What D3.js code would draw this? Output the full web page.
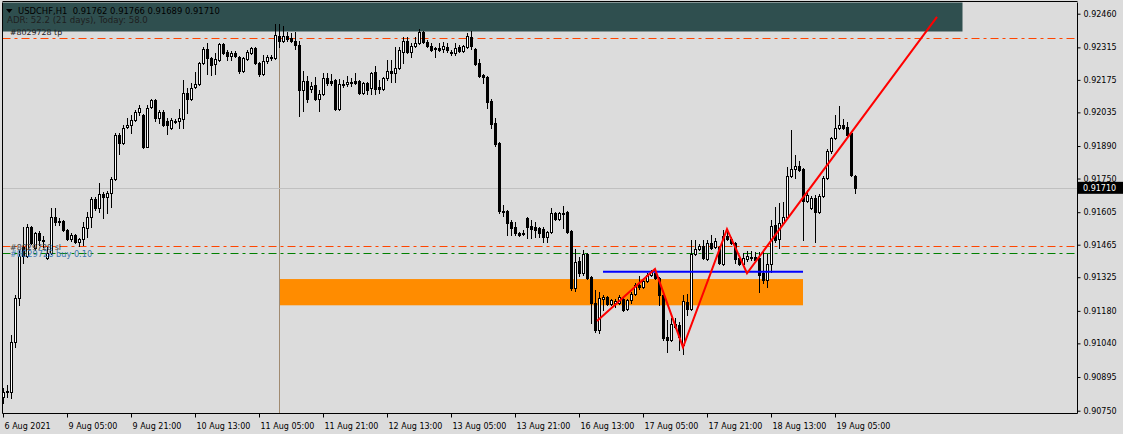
<!DOCTYPE html>
<html><head><meta charset="utf-8">
<script src="https://cdn.jsdelivr.net/npm/d3@7"></script>
<style>html,body{margin:0;padding:0;background:#dcdcdc;overflow:hidden}svg{display:block}</style>
</head><body><svg id="c" width="1123" height="434"></svg>
<script>
// ---------- data ----------
const symbol = "USDCHF,H1";
const headerOHLC = ["0.91762", "0.91766", "0.91689", "0.91710"];
const adrText = "ADR: 52.2 (21 days), Today: 58.0";

const opens = [
0.90808,0.90829,0.90829,0.91045,0.91235,0.91454,0.91416,0.91541,0.91450,0.91515,
0.91485,0.91407,0.91429,0.91584,0.91562,0.91566,0.91528,0.91489,0.91506,0.91476,
0.91489,0.91536,0.91584,0.91661,0.91623,0.91683,0.91670,0.91687,0.91748,0.91937,
0.91903,0.91972,0.91980,0.92002,0.92036,0.92023,0.91885,0.92058,0.92088,0.92010,
0.92036,0.91997,0.91967,0.91997,0.91997,0.92006,0.92118,0.92092,0.92144,0.92157,
0.92247,0.92308,0.92269,0.92243,0.92260,0.92329,0.92295,0.92278,0.92291,0.92273,
0.92213,0.92265,0.92291,0.92312,0.92247,0.92200,0.92256,0.92269,0.92269,0.92364,
0.92342,0.92364,0.92355,0.92342,0.92325,0.92131,0.92170,0.92135,0.92153,0.92092,
0.92114,0.92183,0.92170,0.92174,0.92049,0.92157,0.92157,0.92166,0.92170,0.92170,
0.92118,0.92161,0.92140,0.92209,0.92144,0.92135,0.92183,0.92213,0.92204,0.92226,
0.92295,0.92342,0.92295,0.92321,0.92334,0.92381,0.92338,0.92321,0.92312,0.92312,
0.92308,0.92316,0.92295,0.92291,0.92316,0.92299,0.92316,0.92360,0.92308,0.92247,
0.92196,0.92187,0.92084,0.91989,0.91903,0.91610,0.91610,0.91562,0.91541,0.91515,
0.91515,0.91579,0.91545,0.91541,0.91536,0.91532,0.91498,0.91519,0.91601,0.91575,
0.91597,0.91605,0.91523,0.91278,0.91394,0.91342,0.91424,0.91325,0.91213,0.91097,
0.91230,0.91239,0.91209,0.91213,0.91213,0.91230,0.91187,0.91226,0.91252,0.91291,
0.91282,0.91308,0.91334,0.91342,0.91321,0.91248,0.91067,0.91054,0.91123,0.91118,
0.91032,0.91217,0.91187,0.91424,0.91446,0.91459,0.91403,0.91472,0.91454,0.91454,
0.91381,0.91502,0.91489,0.91472,0.91407,0.91381,0.91403,0.91411,0.91411,0.91407,
0.91342,0.91312,0.91381,0.91549,0.91489,0.91558,0.91584,0.91760,0.91791,0.91804,
0.91791,0.91653,0.91623,0.91666,0.91605,0.91674,0.91752,0.91868,0.91924,0.91967,
0.91980,0.91972,0.91946,0.91762];

const highs = [
0.90847,0.90860,0.91075,0.91248,0.91441,0.91541,0.91554,0.91545,0.91519,0.91523,
0.91502,0.91454,0.91623,0.91623,0.91579,0.91571,0.91532,0.91515,0.91510,0.91493,
0.91562,0.91605,0.91670,0.91670,0.91730,0.91691,0.91696,0.91756,0.91946,0.91946,
0.91980,0.92010,0.92023,0.92045,0.92066,0.92028,0.92066,0.92092,0.92092,0.92045,
0.92045,0.92010,0.92010,0.92006,0.92049,0.92174,0.92140,0.92161,0.92209,0.92252,
0.92316,0.92334,0.92273,0.92291,0.92334,0.92334,0.92303,0.92299,0.92299,0.92278,
0.92273,0.92303,0.92316,0.92316,0.92252,0.92282,0.92282,0.92282,0.92416,0.92416,
0.92407,0.92381,0.92377,0.92381,0.92342,0.92213,0.92191,0.92166,0.92187,0.92131,
0.92204,0.92204,0.92200,0.92179,0.92179,0.92174,0.92191,0.92183,0.92204,0.92174,
0.92166,0.92166,0.92209,0.92235,0.92174,0.92187,0.92260,0.92260,0.92316,0.92316,
0.92360,0.92360,0.92334,0.92360,0.92394,0.92385,0.92347,0.92334,0.92316,0.92334,
0.92338,0.92334,0.92303,0.92334,0.92325,0.92325,0.92377,0.92385,0.92312,0.92265,
0.92200,0.92191,0.92092,0.92010,0.91907,0.91635,0.91614,0.91571,0.91562,0.91519,
0.91528,0.91584,0.91571,0.91562,0.91541,0.91541,0.91523,0.91623,0.91605,0.91605,
0.91631,0.91610,0.91528,0.91446,0.91411,0.91441,0.91429,0.91329,0.91269,0.91260,
0.91248,0.91243,0.91230,0.91230,0.91248,0.91235,0.91230,0.91260,0.91299,0.91329,
0.91317,0.91342,0.91355,0.91360,0.91325,0.91252,0.91140,0.91148,0.91148,0.91131,
0.91248,0.91252,0.91485,0.91485,0.91467,0.91485,0.91485,0.91506,0.91493,0.91459,
0.91528,0.91528,0.91498,0.91476,0.91411,0.91429,0.91437,0.91437,0.91433,0.91433,
0.91433,0.91424,0.91571,0.91627,0.91644,0.91648,0.91799,0.91959,0.91851,0.91825,
0.91795,0.91700,0.91674,0.91679,0.91683,0.91760,0.91877,0.91929,0.92023,0.92062,
0.92006,0.91993,0.91950,0.91766];

const lows = [
0.90782,0.90808,0.90804,0.91023,0.91204,0.91385,0.91411,0.91467,0.91441,0.91463,
0.91454,0.91403,0.91424,0.91549,0.91549,0.91523,0.91485,0.91480,0.91472,0.91459,
0.91463,0.91498,0.91541,0.91614,0.91605,0.91579,0.91601,0.91627,0.91743,0.91855,
0.91898,0.91967,0.91946,0.91997,0.92023,0.91881,0.91885,0.92054,0.91997,0.91989,
0.91976,0.91941,0.91963,0.91989,0.91967,0.91967,0.92032,0.92088,0.92140,0.92153,
0.92243,0.92200,0.92196,0.92200,0.92256,0.92286,0.92260,0.92260,0.92273,0.92204,
0.92209,0.92260,0.92286,0.92243,0.92191,0.92196,0.92247,0.92260,0.92265,0.92316,
0.92338,0.92342,0.92338,0.92308,0.92019,0.92041,0.92079,0.92122,0.92088,0.92041,
0.92110,0.92153,0.92153,0.92045,0.92045,0.92144,0.92148,0.92148,0.92157,0.92114,
0.92114,0.92114,0.92114,0.92114,0.92118,0.92131,0.92174,0.92166,0.92166,0.92222,
0.92247,0.92291,0.92273,0.92316,0.92329,0.92334,0.92316,0.92299,0.92273,0.92299,
0.92295,0.92295,0.92282,0.92282,0.92295,0.92295,0.92312,0.92308,0.92239,0.92187,
0.92161,0.92054,0.91967,0.91890,0.91601,0.91588,0.91506,0.91506,0.91506,0.91502,
0.91506,0.91493,0.91493,0.91498,0.91498,0.91476,0.91476,0.91515,0.91571,0.91571,
0.91536,0.91515,0.91269,0.91265,0.91329,0.91334,0.91317,0.91127,0.91088,0.91084,
0.91183,0.91204,0.91204,0.91196,0.91209,0.91179,0.91183,0.91213,0.91248,0.91273,
0.91278,0.91304,0.91329,0.91317,0.91204,0.91054,0.91002,0.91049,0.91105,0.91010,
0.90993,0.91161,0.91183,0.91420,0.91441,0.91403,0.91398,0.91446,0.91450,0.91381,
0.91377,0.91485,0.91467,0.91385,0.91377,0.91377,0.91394,0.91398,0.91390,0.91260,
0.91299,0.91282,0.91347,0.91476,0.91450,0.91554,0.91579,0.91756,0.91752,0.91782,
0.91485,0.91648,0.91618,0.91476,0.91601,0.91670,0.91748,0.91860,0.91920,0.91963,
0.91963,0.91933,0.91760,0.91689];

const closes = [
0.90829,0.90834,0.91045,0.91235,0.91416,0.91416,0.91541,0.91472,0.91515,0.91485,
0.91480,0.91429,0.91584,0.91562,0.91566,0.91528,0.91489,0.91506,0.91476,0.91489,
0.91541,0.91584,0.91661,0.91623,0.91683,0.91670,0.91687,0.91748,0.91937,0.91903,
0.91967,0.91980,0.92002,0.92036,0.92054,0.91885,0.92054,0.92088,0.92010,0.92036,
0.91980,0.91980,0.92002,0.91995,0.92010,0.92118,0.92092,0.92140,0.92157,0.92247,
0.92308,0.92269,0.92239,0.92265,0.92329,0.92291,0.92278,0.92291,0.92278,0.92213,
0.92269,0.92295,0.92312,0.92247,0.92200,0.92256,0.92273,0.92273,0.92368,0.92342,
0.92364,0.92351,0.92342,0.92325,0.92131,0.92170,0.92092,0.92148,0.92092,0.92114,
0.92183,0.92161,0.92161,0.92049,0.92157,0.92155,0.92166,0.92161,0.92161,0.92118,
0.92161,0.92131,0.92204,0.92135,0.92135,0.92183,0.92213,0.92204,0.92226,0.92303,
0.92342,0.92295,0.92321,0.92334,0.92381,0.92338,0.92321,0.92303,0.92310,0.92303,
0.92321,0.92303,0.92291,0.92312,0.92299,0.92321,0.92364,0.92321,0.92243,0.92191,
0.92187,0.92079,0.91985,0.91898,0.91610,0.91605,0.91558,0.91536,0.91515,0.91506,
0.91513,0.91541,0.91532,0.91528,0.91515,0.91498,0.91519,0.91601,0.91575,0.91601,
0.91601,0.91519,0.91278,0.91390,0.91342,0.91424,0.91321,0.91213,0.91097,0.91235,
0.91239,0.91209,0.91226,0.91222,0.91239,0.91183,0.91226,0.91252,0.91291,0.91282,
0.91308,0.91334,0.91347,0.91321,0.91248,0.91062,0.91054,0.91123,0.91110,0.91067,
0.91222,0.91187,0.91424,0.91446,0.91459,0.91407,0.91472,0.91450,0.91480,0.91385,
0.91502,0.91489,0.91472,0.91403,0.91381,0.91407,0.91416,0.91407,0.91398,0.91334,
0.91312,0.91381,0.91545,0.91485,0.91558,0.91584,0.91760,0.91791,0.91804,0.91786,
0.91653,0.91679,0.91666,0.91605,0.91674,0.91752,0.91868,0.91924,0.91967,0.91980,
0.91967,0.91937,0.91765,0.91710];

const timeTickIndex = [0, 16, 32, 48, 64, 80, 96, 112, 128, 144, 160, 176, 192, 208];
const timeTickLabels = ["6 Aug 2021", "9 Aug 05:00", "9 Aug 21:00", "10 Aug 13:00", "11 Aug 05:00",
  "11 Aug 21:00", "12 Aug 13:00", "13 Aug 05:00", "13 Aug 21:00", "16 Aug 13:00",
  "17 Aug 05:00", "17 Aug 21:00", "18 Aug 13:00", "19 Aug 05:00"];
const priceTicks = [0.92460, 0.92315, 0.92175, 0.92035, 0.91890, 0.91750, 0.91605,
  0.91465, 0.91325, 0.91180, 0.91040, 0.90895, 0.90750];

const currentPrice = 0.91710;
const orderLevels = [0.92354, 0.91461, 0.91428];          // tp, sl, buy
const orderLabels = ["#8029728 tp", "#8029728 sl", "#8029728 buy 0.10"];
const orderColors = ["#ff4500", "#ff4500", "#008000"];
const orderTextColors = ["#202020", "#404040", "#3c78b0"];

const zoneIndex = [69, 200];                 // orange rectangle, bar span
const zonePrice = [0.91317, 0.91204];        // top, bottom
const levelIndex = [150, 200];               // blue horizontal segment
const levelPrice = [0.91348, 0.91348];
const zigzagIndex = [148.5, 163, 170, 181, 186, 233.5];
const zigzagPrice = [0.91136, 0.91360, 0.91023, 0.91532, 0.91342, 0.92446];
const vlineIndex = 69;

// ---------- scales ----------
const svg = d3.select("#c");
const W = 1123, H = 434;
const plotL = 2.5, plotR = 1077.5, plotT = 2.5, plotB = 413.5;
const x = d3.scaleLinear().domain([0, 268.5]).range([3, 1077]);
const y = d3.scaleLinear().domain([0.90750, 0.92460]).range([410.7, 13.7]);
const FONT = "'DejaVu Sans', Verdana, sans-serif";

// scale a text's font so that it spans the width seen in the reference
function fitText(sel, target) {
  const fs = +sel.attr("font-size");
  const w = sel.node().getComputedTextLength();
  if (w > 0) sel.attr("font-size", (fs * target / w).toFixed(2));
  return sel;
}

svg.append("rect").attr("width", W).attr("height", H).attr("fill", "#dcdcdc");

// header panel
svg.append("rect").attr("x", 2.5).attr("y", 2.5).attr("width", 960).attr("height", 29)
  .attr("fill", "#2f4f4f");
svg.append("path").attr("d", "M6,9 L12.5,9 L9.25,13 Z").attr("fill", "#000");
const ht = svg.append("text").attr("x", 18).attr("y", 13.5).attr("font-family", FONT).attr("font-size", 9.5)
  .attr("fill", "#000").attr("xml:space", "preserve").style("white-space", "pre")
  .text(symbol + "  " + headerOHLC.join(" "));
fitText(ht, 202);
const at = svg.append("text").attr("x", 7).attr("y", 23.3).attr("font-family", FONT).attr("font-size", 8)
  .attr("fill", "#1e1e1e").text(adrText);
fitText(at, 141);

const plot = svg.append("g");

// orange zone
plot.append("rect")
  .attr("x", x(zoneIndex[0])).attr("y", y(zonePrice[0]))
  .attr("width", x(zoneIndex[1]) - x(zoneIndex[0]))
  .attr("height", y(zonePrice[1]) - y(zonePrice[0]))
  .attr("fill", "#ff8c00");

// vertical line
plot.append("line").attr("x1", x(vlineIndex) + 0.5).attr("x2", x(vlineIndex) + 0.5)
  .attr("y1", 32).attr("y2", plotB).attr("stroke", "#a08a70").attr("stroke-width", 1);

// current price line
plot.append("line").attr("x1", plotL).attr("x2", plotR)
  .attr("y1", Math.round(y(currentPrice)) + 0.5).attr("y2", Math.round(y(currentPrice)) + 0.5)
  .attr("stroke", "#c0c0c0");

// order lines
orderLevels.forEach((p, k) => {
  const yy = Math.round(y(p)) + 0.5;
  plot.append("line").attr("x1", plotL).attr("x2", plotR).attr("y1", yy).attr("y2", yy)
    .attr("stroke", orderColors[k]).attr("stroke-width", 1.2).attr("stroke-dasharray", "8,4,3,4");
});

// candles
const candles = d3.range(opens.length).map(i => ({i, o: opens[i], h: highs[i], l: lows[i], c: closes[i]}));
const cg = plot.append("g").attr("shape-rendering", "crispEdges");
const cs = cg.selectAll("g").data(candles).join("g");
cs.append("line")
  .attr("x1", d => Math.round(x(d.i)) + 0.5).attr("x2", d => Math.round(x(d.i)) + 0.5)
  .attr("y1", d => Math.round(y(d.h))).attr("y2", d => Math.round(y(d.l)) + 1)
  .attr("stroke", "#000");
cs.each(function(d) {
  const g = d3.select(this);
  const cx = Math.round(x(d.i));
  const yo = Math.round(y(d.o)), yc = Math.round(y(d.c));
  if (d.c > d.o) {
    g.append("rect").attr("x", cx - 0.5).attr("y", yc + 0.5).attr("width", 2)
      .attr("height", Math.max(1, yo - yc)).attr("fill", "#fff").attr("stroke", "#000");
  } else if (d.c < d.o) {
    g.append("rect").attr("x", cx - 1).attr("y", yo).attr("width", 3)
      .attr("height", Math.max(1, yc - yo + 1)).attr("fill", "#000");
  } else {
    g.append("rect").attr("x", cx - 1).attr("y", yo).attr("width", 3).attr("height", 1).attr("fill", "#000");
  }
});

// blue level
plot.append("line").attr("x1", x(levelIndex[0])).attr("x2", x(levelIndex[1]))
  .attr("y1", y(levelPrice[0])).attr("y2", y(levelPrice[1]))
  .attr("stroke", "#0000ff").attr("stroke-width", 2);

// red zigzag
plot.append("path")
  .attr("d", d3.line().x(d => x(d[0])).y(d => y(d[1]))(zigzagIndex.map((v, k) => [v, zigzagPrice[k]])))
  .attr("fill", "none").attr("stroke", "#ff0000").attr("stroke-width", 2);

// order labels
const labelBaselines = [35.3, 249.5, 256.5];
const labelWidths = [52, 51, 82];
orderLabels.forEach((t, k) => {
  const s = svg.append("text").attr("x", 10).attr("y", labelBaselines[k]).attr("font-family", FONT)
    .attr("font-size", 8.4).attr("fill", orderTextColors[k]).text(t);
  fitText(s, labelWidths[k]);
});

// frame
svg.append("path").attr("d", `M${plotL},${plotT}V${plotB}H${plotR}V${plotT}`)
  .attr("fill", "none").attr("stroke", "#000").attr("stroke-width", 1);
svg.append("line").attr("x1", plotL).attr("x2", plotR).attr("y1", 1.5).attr("y2", 1.5).attr("stroke", "#000");

// right axis
const ra = svg.append("g").attr("transform", `translate(${plotR},0)`)
  .call(d3.axisRight(y).tickValues(priceTicks).tickFormat(d3.format(".5f")).tickSize(3).tickPadding(3));
ra.select(".domain").remove();
ra.selectAll("text").attr("font-family", FONT).attr("font-size", 8).attr("fill", "#000");
ra.selectAll("line").attr("stroke", "#000");

// bottom axis
const ba = svg.append("g").attr("transform", `translate(0,${plotB})`)
  .call(d3.axisBottom(x).tickValues(timeTickIndex).tickFormat((d, k) => timeTickLabels[k]).tickSize(4).tickPadding(6));
ba.select(".domain").remove();
ba.selectAll("text").attr("font-family", FONT).attr("font-size", 8).attr("fill", "#000")
  .attr("text-anchor", "start").attr("dx", 1);
ba.selectAll("line").attr("stroke", "#000");

// current price box
const cy = y(currentPrice);
svg.append("rect").attr("x", 1078).attr("y", cy - 6).attr("width", 45).attr("height", 12).attr("fill", "#000");
svg.append("text").attr("x", 1083).attr("y", cy).attr("dy", "0.35em").attr("font-family", FONT)
  .attr("font-size", 8).attr("fill", "#fff").text(d3.format(".5f")(currentPrice));
</script></body></html>
